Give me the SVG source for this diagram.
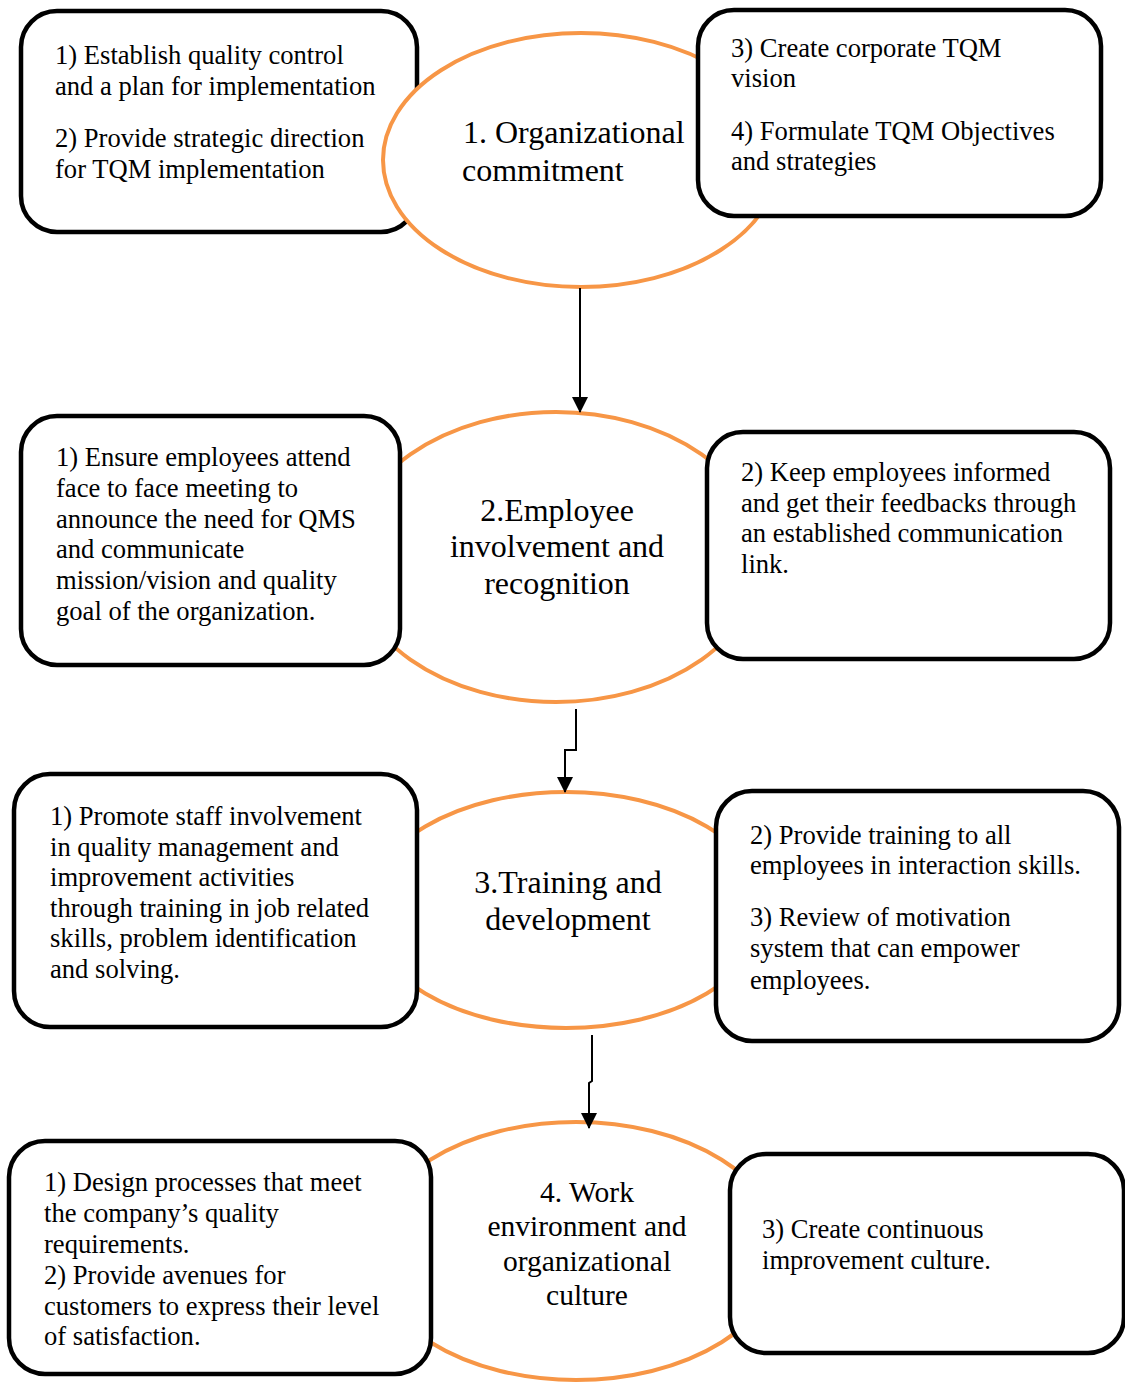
<svg xmlns="http://www.w3.org/2000/svg" width="1125" height="1383" viewBox="0 0 1125 1383">
<style>
.box{fill:#fff;stroke:#000;stroke-width:4.5}
.ell{fill:#fff;stroke:#F79646;stroke-width:4}
.t{font-family:"Liberation Serif","Times New Roman",serif;font-size:26.6px;fill:#000}
.h{font-family:"Liberation Serif","Times New Roman",serif;font-size:32px;fill:#000}
.h4{font-family:"Liberation Serif","Times New Roman",serif;font-size:29.5px;fill:#000}
.c{text-anchor:middle}
.con{fill:none;stroke:#000;stroke-width:2}
</style>
<defs>
<marker id="ah" markerWidth="16" markerHeight="16" refX="15" refY="8" orient="auto" markerUnits="userSpaceOnUse">
<path d="M0,0 L16,8 L0,16 Z" fill="#000"/>
</marker>
</defs>

<g id="box1-left"><rect class="box" x="21" y="11" width="396" height="221" rx="36"/>
<text class="t" x="55" y="64">1) Establish quality control</text>
<text class="t" x="55" y="95">and a plan for implementation</text>
<text class="t" x="55" y="147">2) Provide strategic direction</text>
<text class="t" x="55" y="178">for TQM implementation</text></g>

<g id="node1"><ellipse class="ell" cx="581" cy="160" rx="198" ry="127"/>
<text class="h" x="463" y="143">1. Organizational</text>
<text class="h" x="462" y="181">commitment</text></g>

<g id="box1-right"><rect class="box" x="698" y="10" width="403" height="206" rx="36"/>
<text class="t" x="731" y="57">3) Create corporate TQM</text>
<text class="t" x="731" y="87">vision</text>
<text class="t" x="731" y="140">4) Formulate TQM Objectives</text>
<text class="t" x="731" y="170">and strategies</text></g>

<g id="node2"><ellipse class="ell" cx="556" cy="557" rx="206" ry="145"/>
<text class="h c" x="557" y="521">2.Employee</text>
<text class="h c" x="557" y="557">involvement and</text>
<text class="h c" x="557" y="594">recognition</text></g>

<g id="box2-left"><rect class="box" x="21" y="416" width="379" height="249" rx="36"/>
<text class="t" x="56" y="466">1) Ensure employees attend</text>
<text class="t" x="56" y="497">face to face meeting to</text>
<text class="t" x="56" y="528">announce the need for QMS</text>
<text class="t" x="56" y="558">and communicate</text>
<text class="t" x="56" y="589">mission/vision and quality</text>
<text class="t" x="56" y="620">goal of the organization.</text></g>

<g id="box2-right"><rect class="box" x="707" y="432" width="403" height="227" rx="36"/>
<text class="t" x="741" y="481">2) Keep employees informed</text>
<text class="t" x="741" y="512">and get their feedbacks through</text>
<text class="t" x="741" y="542">an established communication</text>
<text class="t" x="741" y="573">link.</text></g>

<g id="node3"><ellipse class="ell" cx="566" cy="910" rx="199" ry="118"/>
<text class="h c" x="568" y="893">3.Training and</text>
<text class="h c" x="568" y="930">development</text></g>

<g id="box3-left"><rect class="box" x="14" y="774" width="403" height="253" rx="36"/>
<text class="t" x="50" y="825">1) Promote staff involvement</text>
<text class="t" x="50" y="856">in quality management and</text>
<text class="t" x="50" y="886">improvement activities</text>
<text class="t" x="50" y="917">through training in job related</text>
<text class="t" x="50" y="947">skills, problem identification</text>
<text class="t" x="50" y="978">and solving.</text></g>

<g id="box3-right"><rect class="box" x="716" y="791" width="403" height="250" rx="36"/>
<text class="t" x="750" y="844">2) Provide training to all</text>
<text class="t" x="750" y="874">employees in interaction skills.</text>
<text class="t" x="750" y="926">3) Review of motivation</text>
<text class="t" x="750" y="957">system that can empower</text>
<text class="t" x="750" y="989">employees.</text></g>

<g id="node4"><ellipse class="ell" cx="576" cy="1251" rx="206" ry="129"/>
<text class="h4 c" x="587" y="1202">4. Work</text>
<text class="h4 c" x="587" y="1236">environment and</text>
<text class="h4 c" x="587" y="1271">organizational</text>
<text class="h4 c" x="587" y="1305">culture</text></g>

<g id="box4-left"><rect class="box" x="9" y="1141" width="422" height="233" rx="36"/>
<text class="t" x="44" y="1191">1) Design processes that meet</text>
<text class="t" x="44" y="1222">the company’s quality</text>
<text class="t" x="44" y="1253">requirements.</text>
<text class="t" x="44" y="1284">2) Provide avenues for</text>
<text class="t" x="44" y="1315">customers to express their level</text>
<text class="t" x="44" y="1345">of satisfaction.</text></g>

<g id="box4-right"><rect class="box" x="730" y="1154" width="394" height="199" rx="36"/>
<text class="t" x="762" y="1238">3) Create continuous</text>
<text class="t" x="762" y="1269">improvement culture.</text></g>

<g id="connectors">
<path class="con" d="M580,288 L580,412" marker-end="url(#ah)"/>
<path class="con" d="M576,709 L576,750 L565,750 L565,792" marker-end="url(#ah)"/>
<path class="con" d="M592,1035 L592,1081 L589,1083 L589,1128" marker-end="url(#ah)"/>
</g>
</svg>
